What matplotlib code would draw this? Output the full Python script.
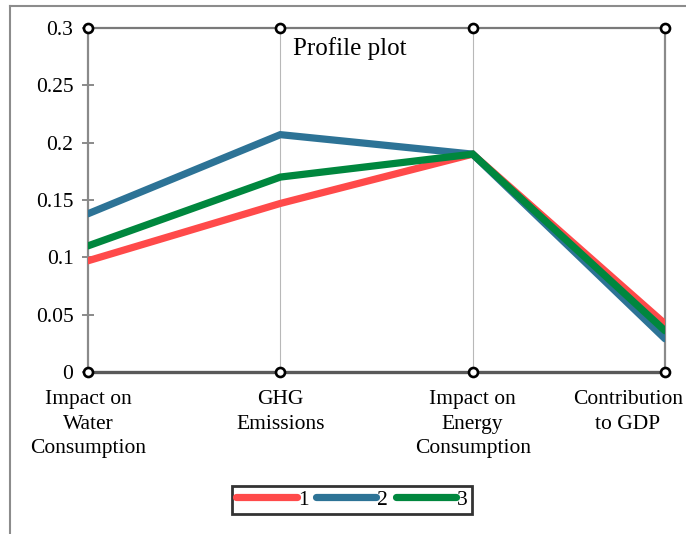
import matplotlib.pyplot as plt
from matplotlib.lines import Line2D
from matplotlib.transforms import ScaledTranslation

plt.rcParams["font.family"] = ["Liberation Serif", "DejaVu Serif"]

# criteria along the x axis and the three profiles
categories = [
    "Impact on\nWater\nConsumption",
    "GHG\nEmissions",
    "Impact on\nEnergy\nConsumption",
    "Contribution\nto GDP",
]
profile_1 = [0.097, 0.147, 0.190, 0.042]
profile_2 = [0.138, 0.207, 0.190, 0.029]
profile_3 = [0.110, 0.170, 0.190, 0.036]
series_labels = ["1", "2", "3"]
y_ticks = [0, 0.05, 0.1, 0.15, 0.2, 0.25, 0.3]
y_tick_labels = ["0", "0.05", "0.1", "0.15", "0.2", "0.25", "0.3"]

colors = ["#FF4A4A", "#2D7396", "#00873E"]

fig = plt.figure(figsize=(6.86, 5.34), dpi=100)
ax = fig.add_axes([88 / 686, 1 - 372 / 534, (665 - 88) / 686, (372 - 28) / 534])

# outer frame of the figure (left and top edges only)
fig.add_artist(Line2D([10 / 686, 10 / 686], [0, 1 - 6 / 534], transform=fig.transFigure,
                      color="#8c8c8c", lw=1.5))
fig.add_artist(Line2D([10 / 686, 1], [1 - 6 / 534, 1 - 6 / 534], transform=fig.transFigure,
                      color="#8c8c8c", lw=1.5))

xs = list(range(len(categories)))
for vals, col, lab in zip([profile_1, profile_2, profile_3], colors, series_labels):
    ax.plot(xs, vals, color=col, lw=5.2, label=lab, solid_capstyle="round",
            solid_joinstyle="miter", zorder=3)

ax.set_xlim(0, len(categories) - 1)
ax.set_ylim(0, 0.3)

# light vertical grid at the inner categories
for x in xs[1:-1]:
    ax.axvline(x, color="#b8b8b8", lw=0.8, zorder=1)

# small open circles where the axes meet the top and bottom borders
for x in xs:
    ax.plot([x, x], [0, 0.3], ls="none", marker="o", ms=6.5, mfc="white",
            mec="black", mew=1.9, clip_on=False, zorder=6)

for side in ["left", "right", "top"]:
    ax.spines[side].set_color("#8a8a8a")
    ax.spines[side].set_linewidth(1.6)
ax.spines["top"].set_color("#7a7a7a")
ax.spines["bottom"].set_color("#595959")
ax.spines["bottom"].set_linewidth(2.4)

ax.set_yticks(y_ticks)
ax.set_yticklabels(y_tick_labels)
ax.tick_params(axis="y", direction="inout", length=9, width=1.4, color="#8a8a8a",
               labelsize=15.5, pad=6)
ax.set_xticks(xs)
ax.set_xticklabels(categories, linespacing=1.4)
ax.tick_params(axis="x", length=0, labelsize=15.5, pad=13)

# the last label is pulled left so it stays inside the figure
last = ax.get_xticklabels()[-1]
last.set_horizontalalignment("right")
last.set_multialignment("center")
last.set_transform(last.get_transform() + ScaledTranslation(0.18, 0, fig.dpi_scale_trans))

ax.text(0.454, 0.975, "Profile plot", transform=ax.transAxes, ha="center", va="top",
        fontsize=18)

leg = fig.legend(loc="center", bbox_to_anchor=(352 / 686, 1 - 500 / 534), ncol=3,
                 fontsize=15.5, frameon=True, fancybox=False, handlelength=2.8,
                 handletextpad=0.05, columnspacing=0.35, borderpad=0.2,
                 borderaxespad=0)
leg.get_frame().set_edgecolor("black")
leg.get_frame().set_linewidth(2)
for h in leg.get_lines():
    h.set_solid_capstyle("round")

fig.savefig("out.png", dpi=100)
